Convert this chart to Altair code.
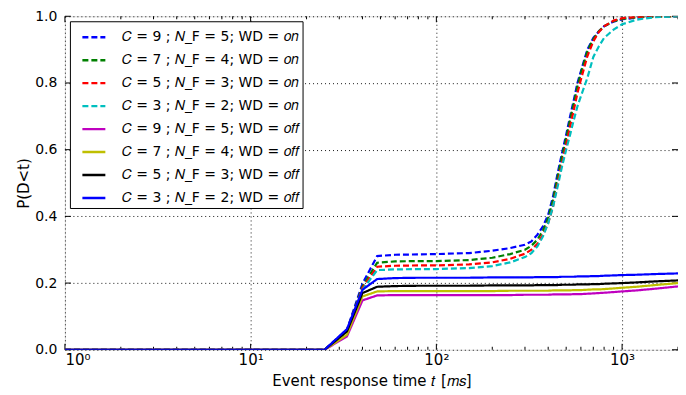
import altair as alt
import pandas as pd

# ---- data ----
t_vals = [1, 25, 33, 40, 48, 60, 80, 100, 150, 200, 250, 300, 325, 350, 375, 400,
          425, 450, 475, 500, 525, 550, 575, 600, 650, 700, 750, 800, 900, 1000,
          1200, 1500, 2000]

labels = [
    "𝐶 = 9 ; 𝑁_F = 5; WD = 𝑜𝑛",
    "𝐶 = 7 ; 𝑁_F = 4; WD = 𝑜𝑛",
    "𝐶 = 5 ; 𝑁_F = 3; WD = 𝑜𝑛",
    "𝐶 = 3 ; 𝑁_F = 2; WD = 𝑜𝑛",
    "𝐶 = 9 ; 𝑁_F = 5; WD = 𝑜𝑓𝑓",
    "𝐶 = 7 ; 𝑁_F = 4; WD = 𝑜𝑓𝑓",
    "𝐶 = 5 ; 𝑁_F = 3; WD = 𝑜𝑓𝑓",
    "𝐶 = 3 ; 𝑁_F = 2; WD = 𝑜𝑓𝑓",
]
colors = ["#0000ff", "#008000", "#ff0000", "#00bfbf",
          "#bf00bf", "#bfbf00", "#000000", "#0000ff"]
dashes = [[6, 3], [6, 3], [6, 3], [6, 3], [1, 0], [1, 0], [1, 0], [1, 0]]

c9_on = [0, 0, 0.060, 0.198, 0.281, 0.285, 0.286, 0.287, 0.290, 0.297, 0.305, 0.315,
         0.325, 0.345, 0.370, 0.405, 0.460, 0.530, 0.590, 0.645, 0.700, 0.750, 0.800,
         0.835, 0.900, 0.935, 0.955, 0.970, 0.984, 0.991, 0.996, 0.999, 1.0]
c7_on = [0, 0, 0.058, 0.190, 0.261, 0.265, 0.266, 0.266, 0.269, 0.276, 0.287, 0.300,
         0.312, 0.330, 0.358, 0.395, 0.450, 0.520, 0.580, 0.635, 0.690, 0.740, 0.790,
         0.830, 0.895, 0.932, 0.955, 0.970, 0.985, 0.992, 0.997, 0.999, 1.0]
c5_on = [0, 0, 0.055, 0.185, 0.249, 0.252, 0.253, 0.253, 0.256, 0.262, 0.273, 0.288,
         0.300, 0.318, 0.345, 0.380, 0.430, 0.500, 0.560, 0.615, 0.670, 0.720, 0.770,
         0.810, 0.880, 0.925, 0.953, 0.970, 0.987, 0.994, 0.998, 1.0, 1.0]
c3_on = [0, 0, 0.055, 0.180, 0.239, 0.241, 0.242, 0.242, 0.245, 0.251, 0.262, 0.278,
         0.290, 0.310, 0.340, 0.380, 0.430, 0.490, 0.550, 0.600, 0.645, 0.690, 0.730,
         0.760, 0.815, 0.878, 0.910, 0.935, 0.960, 0.976, 0.990, 0.997, 1.0]
c9_off = [0, 0, 0.040, 0.148, 0.163, 0.164, 0.164, 0.164, 0.164, 0.164, 0.164, 0.165,
          0.165, 0.165, 0.165, 0.165, 0.166, 0.166, 0.166, 0.166, 0.166, 0.167, 0.167,
          0.167, 0.168, 0.169, 0.170, 0.171, 0.173, 0.175, 0.178, 0.183, 0.190]
c7_off = [0, 0, 0.045, 0.160, 0.175, 0.176, 0.176, 0.176, 0.176, 0.176, 0.177, 0.177,
          0.177, 0.177, 0.177, 0.177, 0.178, 0.178, 0.178, 0.178, 0.178, 0.179, 0.179,
          0.179, 0.180, 0.181, 0.181, 0.182, 0.184, 0.186, 0.189, 0.194, 0.200]
c5_off = [0, 0, 0.055, 0.170, 0.189, 0.191, 0.192, 0.192, 0.192, 0.193, 0.193, 0.193,
          0.193, 0.194, 0.194, 0.194, 0.194, 0.194, 0.195, 0.195, 0.195, 0.195, 0.196,
          0.196, 0.196, 0.197, 0.197, 0.198, 0.199, 0.200, 0.202, 0.205, 0.208]
c3_off = [0, 0, 0.062, 0.180, 0.212, 0.215, 0.216, 0.216, 0.216, 0.217, 0.217, 0.217,
          0.217, 0.218, 0.218, 0.218, 0.218, 0.218, 0.219, 0.219, 0.219, 0.219, 0.220,
          0.220, 0.220, 0.221, 0.221, 0.222, 0.223, 0.224, 0.225, 0.227, 0.229]

series_values = [c9_on, c7_on, c5_on, c3_on, c9_off, c7_off, c5_off, c3_off]

x_major = [1, 10, 100, 1000]
x_major_labels = ["10⁰", "10¹", "10²", "10³"]
x_minor = [m * 10 ** k for k in range(4) for m in range(2, 10) if m * 10 ** k <= 2000]
y_major = [0.0, 0.2, 0.4, 0.6, 0.8, 1.0]

# ---- frames ----
rows = []
for i, (lab, vals) in enumerate(zip(labels, series_values)):
    for t, p in zip(t_vals, vals):
        rows.append({"series": lab, "t": t, "p": p, "k": i})
df = pd.DataFrame(rows)

W, H = 614, 334
FONT = "DejaVu Sans"

label_map = "{" + ",".join(f"'{v}':'{s}'" for v, s in zip(x_major, x_major_labels)) + "}"

xscale = alt.Scale(type="log", domain=[1, 2000], nice=False)
yscale = alt.Scale(domain=[0, 1], nice=False)

legend = alt.Legend(
    title=None, orient="top-left", offset=5, symbolType="stroke",
    symbolSize=529, symbolStrokeWidth=2.4, symbolOffset=8,
    labelFontSize=14, labelFont=FONT, labelColor="black",
    labelOffset=15, rowPadding=3, padding=3, strokeColor="black",
    fillColor="white", cornerRadius=0, labelLimit=400,
    labelExpr="datum.label + '\u00a0\u00a0\u00a0\u00a0\u00a0'",
)

xaxis = alt.Axis(values=x_major, labelExpr=f"{label_map}[datum.value]",
                 title="Event response time 𝑡 [𝑚𝑠]", grid=True, ticks=False,
                 domain=False, labelPadding=3, titlePadding=6,
                 labelFontSize=15, titleFontSize=15, labelFont=FONT,
                 titleFont=FONT, titleFontWeight="normal",
                 labelColor="black", titleColor="black",
                 gridColor="black", gridDash=[1, 3], gridOpacity=0.9)
yaxis = alt.Axis(values=y_major, format=".1f", title="P(D<t)", grid=True,
                 ticks=False, domain=False, labelPadding=8, titlePadding=3,
                 labelFontSize=14, titleFontSize=15, labelFont=FONT,
                 titleFont=FONT, titleFontWeight="normal",
                 labelColor="black", titleColor="black",
                 gridColor="black", gridDash=[1, 3], gridOpacity=0.9)

lines = alt.Chart(df).mark_line(strokeWidth=2.2, clip=True).encode(
    x=alt.X("t:Q", scale=xscale, axis=xaxis),
    y=alt.Y("p:Q", scale=yscale, axis=yaxis),
    color=alt.Color("series:N", scale=alt.Scale(domain=labels, range=colors), legend=legend),
    strokeDash=alt.StrokeDash("series:N", scale=alt.Scale(domain=labels, range=dashes), legend=legend),
    order=alt.Order("t:Q"),
)

xmaj_df = pd.DataFrame({"t": x_major})
xmin_df = pd.DataFrame({"t": x_minor})
ymaj_df = pd.DataFrame({"p": y_major})

def xticks(data, length):
    bottom = alt.Chart(data).mark_rule(color="black", strokeWidth=1).encode(
        x=alt.X("t:Q", scale=xscale, axis=xaxis),
        y=alt.value(H), y2=alt.value(H - length))
    top = alt.Chart(data).mark_rule(color="black", strokeWidth=1).encode(
        x=alt.X("t:Q", scale=xscale, axis=xaxis),
        y=alt.value(0), y2=alt.value(length))
    return [bottom, top]

yleft = alt.Chart(ymaj_df).mark_rule(color="black", strokeWidth=1).encode(
    y=alt.Y("p:Q", scale=yscale, axis=yaxis), x=alt.value(0), x2=alt.value(6))
yright = alt.Chart(ymaj_df).mark_rule(color="black", strokeWidth=1).encode(
    y=alt.Y("p:Q", scale=yscale, axis=yaxis), x=alt.value(W), x2=alt.value(W - 6))

chart = alt.layer(
    *xticks(xmaj_df, 6), *xticks(xmin_df, 3), yleft, yright, lines
).properties(
    width=W, height=H,
    autosize=alt.AutoSizeParams(type="none"),
    padding={"left": 57, "top": 8, "right": 0, "bottom": 40},
).configure_view(
    stroke="black", strokeWidth=1.2
).configure(font=FONT, background="white")

chart.save("out.html", embed_options={"renderer": "svg", "actions": False})
